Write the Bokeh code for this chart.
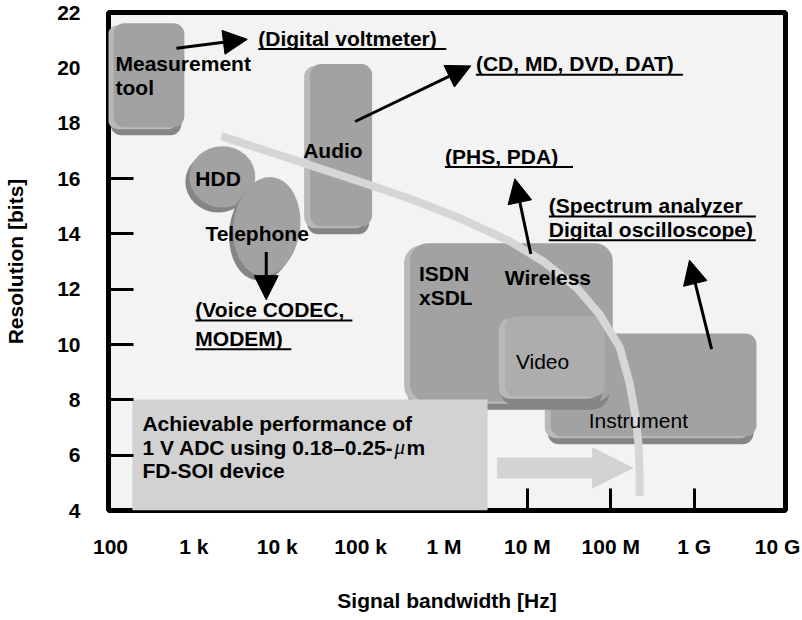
import numpy as np
from bokeh.plotting import figure
from bokeh.models import Range1d, FixedTicker, Arrow, NormalHead, ColumnDataSource
from bokeh.core.properties import value
from bokeh.embed import file_html
from bokeh.resources import INLINE

# ---------------- data ----------------
x_tick_hz = [1e2, 1e3, 1e4, 1e5, 1e6, 1e7, 1e8, 1e9, 1e10]
x_tick_labels = ["100", "1 k", "10 k", "100 k", "1 M", "10 M", "100 M", "1 G", "10 G"]
y_tick_bits = [4, 6, 8, 10, 12, 14, 16, 18, 20, 22]
x_inner_tick_hz = [1e7, 1e8, 1e9]
y_inner_tick_bits = [6, 8, 10, 12, 14, 16]

# application regions, back to front (bandwidth range in Hz, resolution range in bits)
region_names = ["Measurement tool", "Audio", "Instrument", "ISDN/xSDL/Wireless", "Video"]
region_f_lo = [108.6, 24800, 1.91e7, 3.92e5, 5.37e6]
region_f_hi = [769, 137400, 5.6e9, 1.057e8, 8.51e7]
region_bits_lo = [17.85, 14.27, 6.68, 7.93, 8.11]
region_bits_hi = [21.61, 20.14, 10.40, 13.66, 11.01]

oval_names = ["HDD", "Telephone"]
oval_f_lo = [883, 2972]
oval_f_hi = [5445, 18840]
oval_bits_lo = [14.95, 12.48]
oval_bits_hi = [17.17, 16.06]

achievable_f = [183, 3.33e6]
achievable_bits = [4.0, 8.01]

limit_f = [2133, 18840, 98600, 3.92e5, 1.556e6, 6.17e6, 1.535e7, 3.92e7,
           7.38e7, 1.28e8, 1.69e8, 1.99e8, 2.16e8, 2.22e8, 2.22e8]
limit_bits = [17.53, 16.60, 15.88, 15.27, 14.56, 13.73, 13.01, 12.05,
              11.08, 9.90, 8.58, 7.40, 6.32, 5.43, 4.53]

trend_f = [4.31e6, 1.83e8]
trend_bits = 5.54

ptr_f_from = [617, 86000, 7380, 1.1e7, 1.62e9]
ptr_bits_from = [20.71, 18.06, 13.34, 13.27, 9.83]
ptr_f_to = [4375, 2.1e6, 7380, 7.08e6, 8.8e8]
ptr_bits_to = [21.03, 20.07, 11.62, 15.99, 13.05]

region_label_text = ["Measurement", "tool", "HDD", "Telephone", "Audio", "ISDN", "xSDL", "Wireless"]
region_label_f = [114.8, 114.8, 1042, 1374, 20470, 5.01e5, 5.01e5, 5.37e6]
region_label_bits = [20.17, 19.28, 15.99, 14.02, 17.01, 12.55, 11.69, 12.41]

plain_label_text = ["Video", "Instrument"]
plain_label_f = [7.28e6, 5.45e7]
plain_label_bits = [9.37, 7.25]

example_text = ["(Digital voltmeter)", "(CD, MD, DVD, DAT)", "(PHS, PDA)",
                "(Spectrum analyzer", "Digital oscilloscope)", "(Voice CODEC,", "MODEM)"]
example_f = [5916, 2.415e6, 1.028e6, 1.808e7, 1.808e7, 1042, 1042]
example_bits = [21.07, 20.14, 16.81, 15.02, 14.16, 11.26, 10.22]

note_text = ["Achievable performance of", "1 V ADC using 0.18\u20130.25-", "FD-SOI device"]
note_unit_mu = "\u03bc"
note_unit_m = "m"
note_f = [241.5, 241.5, 241.5]
note_bits = [7.15, 6.29, 5.43]

# ---------------- layout / style ----------------
X0, X1 = 1.976, 10.096
Y0, Y1 = 4, 22
W, H = 800, 614
ML, MR, MT, MB = 108, 15, 12, 99
FW = W - ML - MR
FH = H - MT - MB
ppd = FW / (X1 - X0)   # pixels per decade
ppb = FH / (Y1 - Y0)   # pixels per bit

FONT = "Liberation Sans"
FS = "21px"
FACE = "#a2a2a2"
LIGHT = "#b9b9b9"
DARK = "#858585"

lg = lambda a: np.log10(np.asarray(a, dtype=float))

p = figure(width=W, height=H, x_range=Range1d(X0, X1), y_range=Range1d(Y0, Y1),
           output_backend="svg", toolbar_location=None, title=None,
           min_border_left=ML, min_border_right=MR, min_border_top=MT, min_border_bottom=MB)

p.background_fill_color = "#f3f3f3"
p.border_fill_color = "white"
p.outline_line_color = "black"
p.outline_line_width = 5
p.xgrid.visible = False
p.ygrid.visible = False

xt = [int(round(v)) for v in lg(x_tick_hz)]
p.xaxis.ticker = FixedTicker(ticks=xt, minor_ticks=[int(round(v)) for v in lg(x_inner_tick_hz)])
p.xaxis.major_label_overrides = {k: s for k, s in zip(xt, x_tick_labels)}
p.yaxis.ticker = FixedTicker(ticks=y_tick_bits, minor_ticks=y_inner_tick_bits)

for ax in (p.xaxis[0], p.yaxis[0]):
    ax.axis_line_color = None
    ax.major_tick_line_color = None
    ax.major_tick_in = 0
    ax.major_tick_out = 0
    ax.minor_tick_out = 0
    ax.minor_tick_line_color = "black"
    ax.minor_tick_line_width = 3
    ax.major_label_text_font = FONT
    ax.major_label_text_font_size = FS
    ax.major_label_text_font_style = "bold"
    ax.major_label_text_color = "black"
    ax.axis_label_text_font = FONT
    ax.axis_label_text_font_size = FS
    ax.axis_label_text_font_style = "bold"
    ax.axis_label_text_color = "black"

p.xaxis.minor_tick_in = 22
p.yaxis.minor_tick_in = 25
p.xaxis.axis_label = "Signal bandwidth [Hz]"
p.yaxis.axis_label = "Resolution [bits]"
p.xaxis.major_label_standoff = 24
p.yaxis.major_label_standoff = 28
p.xaxis.axis_label_standoff = 28
p.yaxis.axis_label_standoff = 27

# ---------------- regions ----------------
for i in range(len(region_names)):
    l, r = float(lg(region_f_lo[i])), float(lg(region_f_hi[i]))
    b, t = region_bits_lo[i], region_bits_hi[i]
    rad = 18 if region_names[i].startswith("ISDN") else 11
    face = "#adadad" if region_names[i] == "Video" else FACE
    p.quad(left=l - 3 / ppd, right=r - 3 / ppd, bottom=b - 8 / ppb, top=t - 8 / ppb,
           fill_color=DARK, line_color=None, border_radius=rad)
    p.quad(left=l - 6 / ppd, right=r - 6 / ppd, bottom=b - 2 / ppb, top=t - 2 / ppb,
           fill_color=LIGHT, line_color=None, border_radius=rad)
    p.quad(left=l, right=r, bottom=b, top=t, fill_color=face, line_color=None, border_radius=rad)

for i in range(len(oval_names)):
    l, r = float(lg(oval_f_lo[i])), float(lg(oval_f_hi[i]))
    b, t = oval_bits_lo[i], oval_bits_hi[i]
    cx, cy = (l + r) / 2, (b + t) / 2
    ang = -0.12 if oval_names[i] == "Telephone" else 0.0
    p.ellipse(x=cx - 4 / ppd, y=cy - 5 / ppb, width=r - l, height=t - b, angle=ang,
              fill_color=DARK, line_color=None)
    p.ellipse(x=cx, y=cy, width=r - l, height=t - b, angle=ang, fill_color=FACE, line_color=None)

p.quad(left=float(lg(achievable_f[0])), right=float(lg(achievable_f[1])),
       bottom=achievable_bits[0], top=achievable_bits[1], fill_color="#d2d2d2", line_color=None)

p.line(lg(limit_f), limit_bits, line_width=8, line_color="#d6d6d6", line_join="round")

p.add_layout(Arrow(x_start=float(lg(trend_f[0])), y_start=trend_bits,
                   x_end=float(lg(trend_f[1])), y_end=trend_bits,
                   line_width=21, line_color="#d3d3d3",
                   end=NormalHead(size=40, fill_color="#d3d3d3", line_color="#d3d3d3")))

arr_src = ColumnDataSource(dict(xs=lg(ptr_f_from), ys=ptr_bits_from, xe=lg(ptr_f_to), ye=ptr_bits_to))
p.add_layout(Arrow(x_start="xs", y_start="ys", x_end="xe", y_end="ye", source=arr_src,
                   line_width=3, line_color="black",
                   end=NormalHead(size=24, fill_color="black", line_color="black", line_width=1)))

# ---------------- texts ----------------
def texts(xs, ys, txt, style, font=FONT, x_offset=0):
    src = ColumnDataSource(dict(x=lg(xs), y=ys, t=txt))
    p.text(x="x", y="y", text="t", source=src, text_font=value(font), text_font_size=FS,
           text_font_style=style, text_color="black", text_align="left", text_baseline="middle",
           x_offset=x_offset)

texts(region_label_f, region_label_bits, region_label_text, "bold")
texts(plain_label_f, plain_label_bits, plain_label_text, "normal")
texts(example_f, example_bits, example_text, "bold")
texts(note_f, note_bits, note_text, "bold")
# italic micro sign + bold "m" after the second note line
texts(note_f[1:2], note_bits[1:2], [note_unit_mu], "italic", font="Liberation Serif", x_offset=252)
texts(note_f[1:2], note_bits[1:2], [note_unit_m], "bold", x_offset=264)

underline_px = [188, 207, 128, 207, 207, 157, 96]
ux0 = lg(example_f)
ux1 = ux0 + np.array(underline_px) / ppd
uy = np.array(example_bits) - 11 / ppb
p.segment(x0=ux0, y0=uy, x1=ux1, y1=uy, line_width=2, line_color="black")

open("out.html", "w").write(file_html(p, INLINE))
